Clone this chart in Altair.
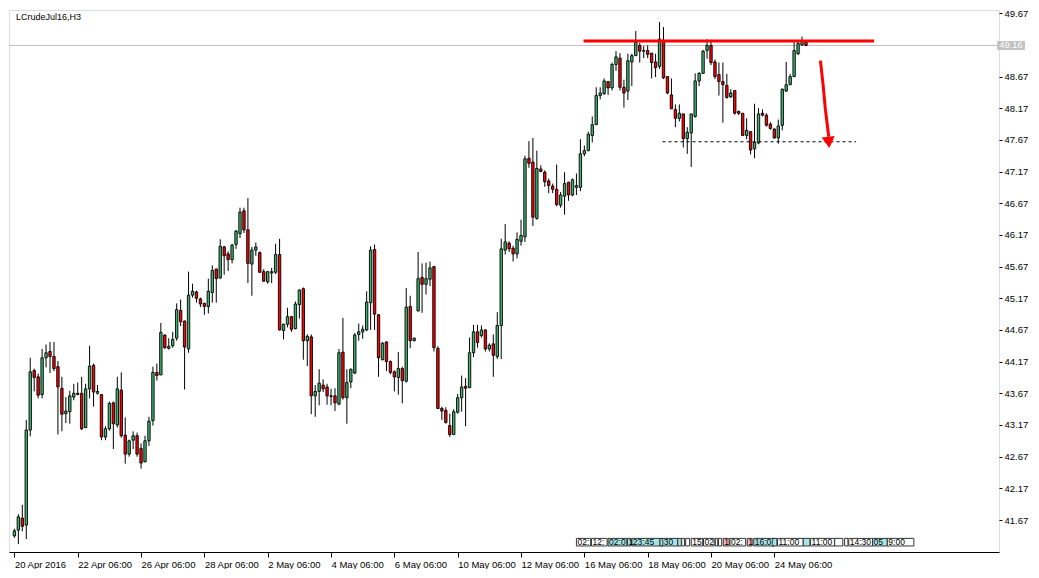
import altair as alt
import pandas as pd

# ---------------- data ----------------
opens = [41.42, 41.51, 41.70, 41.59, 43.09, 44.03, 43.93, 43.65, 44.23, 44.33, 44.25, 44.09, 43.75, 43.35, 43.38, 43.61, 43.65, 43.67, 43.13, 43.74, 44.11,
         43.67, 43.65, 42.98, 43.11, 43.52, 43.17, 43.72, 43.01, 42.71, 42.93, 43.00, 42.80, 42.59, 42.92, 43.24, 44.00, 43.96, 44.59, 44.38, 44.42,
         44.54, 44.98, 44.81, 44.37, 45.22, 45.27, 45.16, 45.09, 45.04, 45.26, 45.63, 45.49, 45.98, 45.87, 45.78, 46.02, 46.19, 46.55, 46.25, 45.71,
         45.93, 45.89, 45.59, 45.43, 45.57, 45.58, 45.86, 44.66, 44.76, 44.88, 44.69, 45.07, 45.32, 44.50, 44.56, 43.63, 43.70, 43.80, 43.77, 43.62,
         43.63, 43.50, 44.32, 43.60, 43.85, 43.99, 44.60, 44.64, 44.67, 45.10, 45.94, 44.91, 44.20, 44.48, 44.17, 44.01, 43.92, 44.06, 43.86, 45.04,
         44.50, 44.97, 45.50, 45.39, 45.47, 45.67, 44.38, 43.43, 43.40, 43.16, 43.02, 43.37, 43.60, 43.78, 43.76, 44.31, 44.64, 44.58, 44.67, 44.37,
         44.45, 44.25, 44.74, 45.93, 46.04, 45.96, 45.87, 46.07, 46.14, 47.38, 47.32, 46.43, 47.21, 47.16, 47.02, 46.94, 46.89, 46.64, 46.78, 47.00,
         46.80, 46.92, 46.92, 47.45, 47.50, 47.74, 47.91, 48.37, 48.40, 48.59, 48.49, 48.86, 48.96, 48.50, 48.44, 48.90, 49.00, 49.16, 49.07, 49.08,
         49.04, 48.90, 48.83, 49.24, 48.67, 48.38, 48.15, 48.01, 48.08, 47.69, 47.78, 48.04, 48.60, 48.72, 49.08, 49.16, 48.90, 48.70, 48.59, 48.53,
         48.35, 48.45, 48.12, 48.09, 47.74, 47.80, 47.53, 47.62, 48.09, 48.06, 47.92, 47.84, 47.70, 47.90, 48.44, 48.54, 48.67, 49.03, 49.17, 49.21]
highs = [41.53, 41.76, 41.91, 43.25, 44.23, 44.06, 43.98, 44.37, 44.44, 44.48, 44.48, 44.18, 43.93, 43.61, 43.71, 43.82, 43.84, 43.93, 43.82, 44.42, 44.14,
         43.80, 43.66, 43.15, 43.54, 43.54, 43.93, 44.00, 43.29, 42.94, 43.07, 43.05, 42.88, 43.00, 43.30, 44.09, 44.14, 44.78, 44.60, 44.54, 44.64,
         45.09, 45.15, 44.82, 45.59, 45.40, 45.29, 45.18, 45.10, 45.48, 45.69, 45.64, 46.10, 46.00, 45.91, 46.03, 46.25, 46.60, 46.60, 46.75, 45.98,
         46.05, 45.91, 45.63, 45.60, 45.65, 46.03, 46.11, 44.77, 45.02, 44.88, 45.12, 45.31, 45.34, 44.60, 44.60, 43.80, 44.05, 43.89, 43.82, 43.74,
         43.75, 44.37, 44.86, 44.05, 44.06, 44.62, 44.77, 44.74, 45.28, 45.99, 46.02, 44.92, 44.48, 44.49, 44.19, 44.03, 44.32, 44.09, 45.33, 45.21,
         44.55, 45.90, 45.72, 45.73, 45.75, 45.68, 44.41, 43.46, 43.45, 43.35, 43.42, 43.66, 43.95, 43.91, 44.55, 44.75, 44.75, 44.74, 44.68, 44.46,
         44.60, 44.95, 46.11, 46.34, 46.07, 46.00, 46.21, 46.41, 47.42, 47.65, 47.70, 47.50, 47.27, 47.19, 47.06, 46.98, 47.28, 46.85, 47.16, 47.01,
         47.06, 47.14, 47.68, 47.58, 47.80, 48.04, 48.50, 48.50, 48.64, 48.60, 48.89, 49.07, 49.04, 48.62, 49.03, 49.03, 49.39, 49.20, 49.15, 49.16,
         49.04, 49.03, 49.53, 49.45, 48.67, 48.64, 48.23, 48.23, 48.08, 47.87, 48.08, 48.72, 48.74, 49.09, 49.26, 49.25, 48.94, 48.89, 48.89, 48.71,
         48.47, 48.45, 48.13, 48.09, 48.01, 47.81, 48.24, 48.17, 48.15, 48.09, 47.95, 47.86, 47.99, 48.48, 48.90, 48.71, 49.21, 49.23, 49.30, 49.23]
lows = [41.39, 41.29, 41.49, 41.37, 42.99, 43.70, 43.59, 43.59, 44.08, 43.99, 44.02, 43.02, 43.07, 43.20, 43.19, 43.56, 43.64, 43.09, 43.12, 43.59, 43.46,
        43.65, 42.93, 42.93, 43.08, 42.79, 43.13, 42.97, 42.56, 42.67, 42.79, 42.67, 42.48, 42.58, 42.84, 43.16, 43.87, 43.96, 44.37, 44.36, 44.39,
        44.50, 44.73, 43.73, 44.31, 45.18, 45.10, 45.03, 44.91, 44.93, 45.10, 45.10, 45.48, 45.54, 45.60, 45.72, 45.95, 46.12, 46.20, 45.41, 45.21,
        45.84, 45.57, 45.43, 45.40, 45.41, 45.55, 44.66, 44.52, 44.71, 44.64, 44.68, 44.85, 44.20, 44.10, 43.34, 43.30, 43.48, 43.69, 43.49, 43.48,
        43.39, 43.48, 43.57, 43.19, 43.75, 43.97, 44.50, 44.53, 44.65, 44.67, 44.67, 43.93, 44.19, 44.02, 43.97, 43.70, 43.65, 43.51, 43.84, 44.38,
        44.49, 44.96, 44.94, 45.23, 45.36, 44.33, 43.42, 43.25, 43.19, 42.98, 43.01, 43.35, 43.38, 43.15, 43.75, 44.24, 44.39, 44.55, 44.33, 44.33,
        43.93, 44.21, 44.21, 45.86, 45.90, 45.75, 45.80, 46.00, 46.06, 47.23, 46.31, 46.41, 47.16, 46.93, 46.83, 46.83, 46.62, 46.60, 46.49, 46.71,
        46.78, 46.80, 46.86, 47.41, 47.49, 47.63, 47.91, 48.31, 48.38, 48.38, 48.45, 48.76, 48.45, 48.18, 48.30, 48.52, 49.00, 48.89, 48.96, 48.96,
        48.64, 48.66, 48.79, 48.63, 48.39, 48.16, 47.87, 47.96, 47.55, 47.45, 47.24, 48.02, 48.52, 48.71, 48.95, 48.85, 48.63, 48.37, 47.94, 48.32,
        48.33, 48.07, 48.06, 47.73, 47.68, 47.44, 47.38, 47.60, 48.04, 47.88, 47.83, 47.69, 47.61, 47.82, 48.43, 48.54, 48.66, 49.01, 49.15, 49.15]
closes = [41.50, 41.72, 41.57, 43.09, 44.01, 43.92, 43.64, 44.23, 44.31, 44.25, 44.06, 43.77, 43.34, 43.39, 43.63, 43.67, 43.67, 43.11, 43.74, 44.10, 43.69,
          43.70, 42.98, 43.11, 43.51, 43.19, 43.74, 43.00, 42.71, 42.92, 43.00, 42.71, 42.57, 42.92, 43.23, 44.00, 43.95, 44.63, 44.39, 44.41, 44.52,
          44.99, 44.80, 44.40, 45.22, 45.28, 45.17, 45.08, 45.04, 45.28, 45.61, 45.48, 45.99, 45.84, 45.78, 46.01, 46.23, 46.53, 46.25, 45.72, 45.93,
          45.98, 45.58, 45.44, 45.59, 45.59, 45.86, 44.67, 44.76, 44.88, 44.68, 45.08, 45.30, 44.50, 44.57, 43.63, 43.70, 43.83, 43.74, 43.63, 43.63,
          43.52, 44.31, 43.60, 43.84, 44.05, 44.59, 44.64, 44.68, 45.11, 45.93, 44.92, 44.23, 44.46, 44.17, 44.00, 43.93, 44.06, 43.87, 45.03, 44.50,
          44.54, 45.48, 45.39, 45.48, 45.65, 44.39, 43.43, 43.39, 43.21, 43.02, 43.38, 43.60, 43.77, 43.75, 44.31, 44.64, 44.47, 44.67, 44.37, 44.43,
          44.27, 44.74, 45.95, 46.06, 45.95, 45.87, 46.10, 46.16, 47.37, 47.30, 46.45, 47.22, 47.17, 47.01, 46.95, 46.89, 46.65, 46.80, 46.98, 46.80,
          47.04, 46.95, 47.45, 47.50, 47.76, 47.91, 48.37, 48.41, 48.60, 48.49, 48.86, 48.98, 48.50, 48.41, 48.92, 49.00, 49.21, 49.07, 49.08, 49.02,
          48.89, 48.81, 49.26, 48.65, 48.41, 48.16, 48.01, 48.09, 47.69, 47.79, 48.08, 48.60, 48.72, 49.07, 49.16, 48.89, 48.67, 48.59, 48.54, 48.34,
          48.41, 48.09, 48.09, 47.74, 47.82, 47.51, 47.63, 48.08, 48.06, 47.90, 47.85, 47.70, 47.89, 48.47, 48.54, 48.67, 49.08, 49.19, 49.24, 49.16]

date_tick_idx = [0, 16, 32, 48, 64, 80, 96, 112, 128, 144, 160, 176, 192]
date_labels = ["20 Apr 2016", "22 Apr 06:00", "26 Apr 06:00", "28 Apr 06:00", "2 May 06:00",
               "4 May 06:00", "6 May 06:00", "10 May 06:00", "12 May 06:00", "16 May 06:00",
               "18 May 06:00", "20 May 06:00", "24 May 06:00"]
price_ticks = [41.67, 42.17, 42.67, 43.17, 43.67, 44.17, 44.67, 45.17, 45.67,
               46.17, 46.67, 47.17, 47.67, 48.17, 48.67, 49.67]
symbol_title = "LCrudeJul16,H3"
title_pos = [0.4, 49.56]
bid_price = 49.16
bid_box_x = [248.3, 255.3]
bid_box_y = [49.09, 49.23]

resist_x = [143.8, 217.2]
resist_y = 49.23
support_x = [163.75, 212.65]
support_y = 47.64
arrow_x = [203.65, 204.3, 204.9, 205.75]
arrow_y = [48.92, 48.55, 48.15, 47.72]
arrow_head = [205.75, 47.63]

# event boxes on the time scale (bottom right)
ev_x1 = [142.0, 145.8, 150.0, 154.9, 156.0, 163.1, 167.6, 168.6, 169.6, 171.0, 174.1, 177.1, 177.9,
         179.1, 180.8, 185.15, 186.8, 192.8, 199.3, 201.15, 207.25, 209.75, 210.8, 216.8, 220.55]
ev_x2 = [145.6, 149.75, 154.75, 155.8, 163.1, 167.6, 168.5, 169.3, 170.6, 173.9, 176.8, 177.7, 178.7,
         180.6, 184.75, 186.4, 192.65, 199.3, 201.0, 207.25, 209.3, 210.6, 216.8, 220.55, 227.25]
ev_text = ["02:", "12:", "02:0", "1", "23:45", ")30", "", "", "", "15", "02", "", "",
           "1", "02:", "1", "16:0(", "11:00", "", "11:00", "", "", "14:30", "05", "9:00"]
ev_kind = ["w", "w", "c", "c", "c", "c", "c", "w", "w", "w", "w", "w", "w",
           "p", "w", "p", "c", "w", "c", "w", "w", "w", "w", "c", "w"]
ev_y = [41.26, 41.38]

# ---------------- build tables ----------------
df = pd.DataFrame({"idx": list(range(len(opens))), "o": opens, "h": highs, "l": lows, "c": closes})
df["lo"] = df[["o", "c"]].min(axis=1)
df["hi"] = df[["o", "c"]].max(axis=1)
df["dir"] = ["up" if c >= o else "down" for o, c in zip(opens, closes)]

XD = [-0.1, 247.5]
YD = [41.165, 49.72]
FONT = "Liberation Sans"

label_js = "[" + ",".join("'" + s + "'" for s in date_labels) + "]"

xaxis = alt.Axis(values=date_tick_idx, labelExpr=label_js + "[round(datum.value/16)]",
                 orient="bottom", grid=False, domain=True, domainColor="black", tickColor="black",
                 tickSize=5, labelAlign="left", labelPadding=2, labelFlush=False,
                 labelOverlap=False, labelFont=FONT, labelFontSize=9.5, labelColor="black", title=None)
yaxis = alt.Axis(values=price_ticks, format=".2f", orient="right", grid=False, domain=False,
                 tickColor="black", tickSize=3, labelPadding=2, labelFont=FONT, labelFontSize=9.5,
                 labelColor="black", labelFlush=False, labelOverlap=False, labelBound=False,
                 labelSeparation=0, title=None)


def X(field):
    return alt.X(field, scale=alt.Scale(domain=XD, nice=False, zero=False), axis=xaxis)


def Y(field):
    return alt.Y(field, scale=alt.Scale(domain=YD, nice=False, zero=False), axis=yaxis)


base = alt.Chart(df)

bid = alt.Chart(pd.DataFrame({"p": [bid_price]})).mark_rule(color="#c0c0c0", strokeWidth=1).encode(
    y=Y("p:Q"))

wicks = base.mark_rule(color="black", strokeWidth=1, clip=True).encode(
    x=X("idx:Q"), y=Y("l:Q"), y2="h:Q")

bodies = base.mark_bar(size=2.4, stroke="black", strokeWidth=0.9, clip=True).encode(
    x=X("idx:Q"), y=Y("lo:Q"), y2="hi:Q",
    fill=alt.Fill("dir:N", scale=alt.Scale(domain=["up", "down"], range=["#3cb371", "#ff0000"]), legend=None))

resist = alt.Chart(pd.DataFrame({"x1": [resist_x[0]], "x2": [resist_x[1]], "y": [resist_y]})).mark_rule(
    color="#ff0000", strokeWidth=3).encode(x=X("x1:Q"), x2="x2:Q", y=Y("y:Q"))

support = alt.Chart(pd.DataFrame({"x1": [support_x[0]], "x2": [support_x[1]], "y": [support_y]})).mark_rule(
    color="black", strokeWidth=1, strokeDash=[3, 3]).encode(x=X("x1:Q"), x2="x2:Q", y=Y("y:Q"))

arrow = alt.Chart(pd.DataFrame({"x": arrow_x, "y": arrow_y, "k": list(range(len(arrow_x)))})).mark_line(
    color="#ff0000", strokeWidth=3).encode(x=X("x:Q"), y=Y("y:Q"), order="k:Q")

head = alt.Chart(pd.DataFrame({"x": [arrow_head[0]], "y": [arrow_head[1]]})).mark_point(
    shape="triangle-down", size=170, filled=True, color="#ff0000", opacity=1, angle=354).encode(
    x=X("x:Q"), y=Y("y:Q"))

title = alt.Chart(pd.DataFrame({"x": [title_pos[0]], "y": [title_pos[1]], "t": [symbol_title]})).mark_text(
    align="left", baseline="alphabetic", font=FONT, fontSize=9, color="black").encode(
    x=X("x:Q"), y=Y("y:Q"), text="t:N")

bidbox = alt.Chart(pd.DataFrame({"x1": [bid_box_x[0]], "x2": [bid_box_x[1]],
                                 "y1": [bid_box_y[0]], "y2": [bid_box_y[1]],
                                 "xm": [(bid_box_x[0] + bid_box_x[1]) / 2], "p": [bid_price],
                                 "t": ["%.2f" % bid_price]}))
bidrect = bidbox.mark_rect(color="#c0c0c0").encode(x=X("x1:Q"), x2="x2:Q", y=Y("y1:Q"), y2="y2:Q")
bidtext = bidbox.mark_text(font=FONT, fontSize=9.5, color="white", baseline="middle").encode(
    x=X("xm:Q"), y=Y("p:Q"), text="t:N")

ev = pd.DataFrame({"x1": ev_x1, "x2": ev_x2, "t": ev_text, "k": ev_kind,
                   "y1": [ev_y[0]] * len(ev_x1), "y2": [ev_y[1]] * len(ev_x1),
                   "ym": [(ev_y[0] + ev_y[1]) / 2] * len(ev_x1)})
evboxes = alt.Chart(ev).mark_rect(stroke="#333333", strokeWidth=1).encode(
    x=X("x1:Q"), x2="x2:Q", y=Y("y1:Q"), y2="y2:Q",
    fill=alt.Fill("k:N", scale=alt.Scale(domain=["w", "c", "p"], range=["#ffffff", "#a6e4e6", "#ffb8c4"]),
                  legend=None))
evtext = alt.Chart(ev).mark_text(align="left", baseline="middle", font=FONT, fontSize=8.5, color="black", dx=1).encode(
    x=X("x1:Q"), y=Y("ym:Q"), text="t:N")

chart = alt.layer(bid, wicks, bodies, resist, support, arrow, head, title, bidrect, bidtext, evboxes, evtext).properties(
    width=990, height=542, padding=0
).resolve_scale(fill="independent").configure_view(stroke="black", strokeWidth=1).configure(background="white")

chart.save("out.html", embed_options={"renderer": "svg", "actions": False})
